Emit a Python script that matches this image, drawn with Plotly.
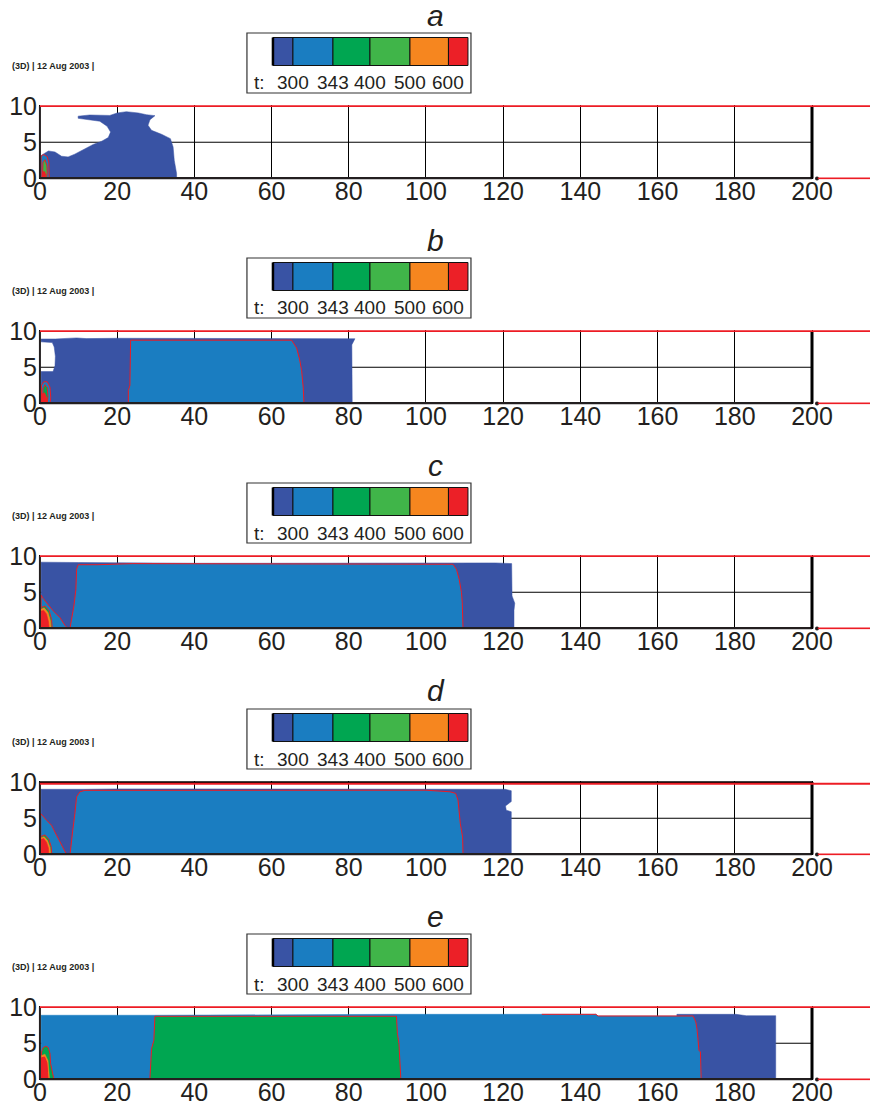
import plotly.graph_objects as go

# ---------------------------------------------------------------- data
panel_letters = ["a", "b", "c", "d", "e"]
x_ticks = [0, 20, 40, 60, 80, 100, 120, 140, 160, 180, 200]
y_ticks = [0, 5, 10]
legend_levels = ["300", "343", "400", "500", "600"]
legend_colors = ["#3953a4", "#1a7dc1", "#00a651", "#40b549", "#f6861f", "#ec2027"]
header_text = "<b>(3D) | 12 Aug 2003 |</b>"

# temperature zones (x in cm, y in cm) for each snapshot
a_t300_x = [0.4, 0.4, 2.2, 3.9, 5.6, 7.3, 9.0, 11.2, 13.8, 16.0, 17.7, 18.3, 17.4, 15.5, 14.2, 12.5, 9.9, 9.9,
            12.9, 18.1, 20.0, 22.4, 25.5, 27.6, 29.8, 28.5, 28.0, 28.9, 31.5, 33.8, 34.5, 34.8, 35.4, 35.4]
a_t300_y = [0, 3.2, 3.8, 3.66, 3.07, 2.98, 3.35, 4.0, 4.7, 5.14, 5.65, 6.4, 7.2, 7.9, 8.0, 8.2, 8.3, 8.6,
            8.76, 8.7, 9.04, 9.22, 9.04, 8.8, 8.67, 8.1, 7.34, 6.65, 6.1, 5.5, 4.35, 2.5, 0.7, 0]
a_t343_x = [0.3, 0.3, 1.0, 1.9, 2.3, 2.4, 2.4]
a_t343_y = [0, 3.1, 3.3, 3.0, 2.2, 1.0, 0]
a_t400_x = [0.6, 0.8, 1.3, 1.8, 1.9, 1.7]
a_t400_y = [0, 2.2, 2.6, 1.8, 0.8, 0]
a_t600_x = [0.6, 0.7, 1.2, 1.5, 1.5]
a_t600_y = [0, 0.9, 1.0, 0.6, 0]

b_t300_x = [0.3, 0.3, 3.4, 3.9, 4.0, 3.7, 3.2, 0.3, 0.3, 4.0, 9.5, 12, 20, 40, 60, 70, 78, 81.6, 80.8, 80.9]
b_t300_y = [0, 4.4, 4.4, 5.2, 6.5, 7.8, 8.4, 8.5, 8.9, 8.9, 9.05, 8.95, 9.0, 9.0, 9.0, 8.95, 8.9, 8.93, 8.1, 0]
b_t343_x = [22.9, 22.9, 23.3, 23.5, 40, 60, 65.2, 66.5, 67.3, 67.8, 68.2, 68.4]
b_t343_y = [0, 1.79, 2.49, 8.73, 8.73, 8.73, 8.73, 7.66, 6.0, 4.5, 2.25, 0]
b_core343_x = [0.4, 0.4, 1.0, 1.9, 2.6, 2.8, 2.6]
b_core343_y = [0, 2.5, 3.0, 3.0, 2.25, 0.84, 0]
b_t400_x = [0.7, 0.8, 1.3, 1.9, 2.1, 1.9]
b_t400_y = [0, 2.0, 2.6, 2.2, 1.0, 0]
b_t600_x = [0.4, 0.4, 1.2, 1.8, 2.0]
b_t600_y = [0, 1.3, 1.5, 0.8, 0]

c_t300_x = [0.3, 0.3, 10, 20, 40, 60, 80, 100, 106, 112, 118, 122.2, 122.3, 123.0, 122.8, 122.8]
c_t300_y = [0, 9.15, 9.1, 9.05, 9.0, 9.0, 9.0, 9.0, 9.05, 9.1, 9.05, 8.95, 4.5, 3.5, 2.5, 0]
c_t343_x = [7.77, 8.2, 8.8, 9.32, 9.5, 9.92, 15, 24, 60, 100, 106, 107.0, 107.9, 108.6, 109.2, 109.4, 109.6]
c_t343_y = [0, 1.28, 3.11, 5.41, 8.17, 8.8, 8.8, 8.95, 8.95, 8.95, 8.9, 8.86, 8.17, 6.8, 4.96, 3.58, 0]
c_low343_x = [0.3, 0.3, 0.86, 3.45, 5.18, 6.47, 7.3]
c_low343_y = [0, 4.6, 4.13, 2.43, 1.51, 0.45, 0]
c_t400_x = [0.3, 0.3, 1.3, 2.4, 3.0, 3.2]
c_t400_y = [0, 2.89, 3.11, 2.43, 1.28, 0]
c_t500_x = [0.3, 0.3, 1.1, 2.1, 2.7, 2.9]
c_t500_y = [0, 2.65, 2.85, 2.2, 1.1, 0]
c_t600_x = [0.3, 0.3, 1.0, 1.7, 2.2, 2.4]
c_t600_y = [0, 2.4, 2.5, 2.0, 1.0, 0]

d_t300_x = [0.3, 0.3, 11.65, 20, 40, 60, 80, 100, 110, 116, 120.5, 122.1, 122.1, 120.6, 120.8, 122.1, 122.1]
d_t300_y = [0, 9.0, 9.0, 9.05, 9.05, 9.05, 9.05, 9.05, 9.1, 9.1, 9.0, 8.8, 7.3, 6.7, 6.1, 5.9, 0]
d_t343_x = [7.8, 8.2, 8.45, 9.06, 9.5, 10.36, 11.65, 40, 80, 100, 106.2, 107.7, 108.3, 108.6, 108.9, 109.5, 109.6]
d_t343_y = [0, 1.48, 3.1, 5.65, 7.96, 8.65, 8.85, 8.85, 8.85, 8.87, 8.65, 8.43, 7.5, 5.65, 4.26, 2.4, 0]
d_low343_x = [0.2, 0.2, 1.73, 3.02, 3.88, 5.18, 6.47, 6.9]
d_low343_y = [0, 5.65, 4.72, 4.03, 3.1, 1.71, 0.32, 0]
d_t400_x = [0.3, 0.3, 1.3, 2.3, 2.9, 3.1]
d_t400_y = [0, 2.5, 2.7, 2.1, 1.1, 0]
d_t500_x = [0.3, 0.3, 1.1, 2.0, 2.6, 2.8]
d_t500_y = [0, 2.3, 2.45, 1.9, 1.0, 0]
d_t600_x = [0.3, 0.3, 1.0, 1.7, 2.2, 2.3]
d_t600_y = [0, 2.1, 2.2, 1.7, 0.9, 0]

e_t300_x = [165, 165, 180.3, 183, 190.6, 190.6]
e_t300_y = [0, 8.99, 8.99, 8.8, 8.8, 0]
e_t343_x = [0.3, 0.3, 30, 92, 144, 144.6, 169.2, 169.9, 170.2, 170.5, 170.7, 171.1, 171.3]
e_t343_y = [0, 8.86, 8.86, 8.99, 8.99, 8.76, 8.76, 7.94, 7.02, 5.41, 4.04, 3.8, 0]
e_front343_x = [130, 144, 144.6, 169.2, 169.9, 170.2, 170.5, 170.7, 171.1, 171.3]
e_front343_y = [8.99, 8.99, 8.76, 8.76, 7.94, 7.02, 5.41, 4.04, 3.8, 0]
e_t400_x = [28.48, 28.66, 28.92, 29.52, 29.78, 92.36, 92.6, 93.0, 93.2, 93.5]
e_t400_y = [0, 1.74, 4.27, 5.41, 8.72, 8.72, 6.33, 4.96, 3.11, 0]
e_core400_x = [0.43, 0.43, 0.86, 1.55, 2.16, 2.6, 2.76, 3.28, 3.63]
e_core400_y = [0, 3.8, 4.4, 4.59, 4.4, 3.58, 2.2, 0.82, 0]
e_t500_x = [0.43, 0.43, 1.3, 2.1, 2.3, 2.5]
e_t500_y = [0, 3.3, 3.5, 2.6, 1.2, 0]
e_t600_x = [0.43, 0.43, 1.2, 1.8, 1.98, 2.1]
e_t600_y = [0, 3.0, 3.1, 2.3, 1.0, 0]

corner_mark_x = [201.3]
corner_mark_y = [0.0]

# ---------------------------------------------------------------- layout geometry
W, H = 870, 1109
X0_PX, X200_PX = 40, 812
SX = (X200_PX - X0_PX) / 200.0
X_LO = -0.5
X_HI = (W - X0_PX) / SX
Y_LO, Y_HI = -0.1, 10.1
PANEL_TOPS = [106, 331, 556, 782, 1007]
PANEL_H = 72.5
SY = PANEL_H / 10.0
M_LEFT = X0_PX + X_LO * SX

INK = "#231f20"
RED = "#ed1c24"
FONT = "Liberation Sans, Arial, sans-serif"

C300, C343, C400, C400B, C500, C600 = legend_colors


def px_x(px):
    return (px - M_LEFT) / (W - M_LEFT)


def px_y(py):
    return 1 - py / H


zones = {
    "a": [(a_t300_x, a_t300_y, C300, None), (a_t343_x, a_t343_y, C343, RED),
          (a_t400_x, a_t400_y, C400B, RED), (a_t600_x, a_t600_y, C600, None)],
    "b": [(b_t300_x, b_t300_y, C300, None), (b_t343_x, b_t343_y, C343, RED),
          (b_core343_x, b_core343_y, C343, RED), (b_t400_x, b_t400_y, C400, RED),
          (b_t600_x, b_t600_y, C600, None)],
    "c": [(c_t300_x, c_t300_y, C300, None), (c_t343_x, c_t343_y, C343, RED),
          (c_low343_x, c_low343_y, C343, RED), (c_t400_x, c_t400_y, C400, RED),
          (c_t500_x, c_t500_y, C500, None), (c_t600_x, c_t600_y, C600, None)],
    "d": [(d_t300_x, d_t300_y, C300, None), (d_t343_x, d_t343_y, C343, RED),
          (d_low343_x, d_low343_y, C343, RED), (d_t400_x, d_t400_y, C400, RED),
          (d_t500_x, d_t500_y, C500, None), (d_t600_x, d_t600_y, C600, None)],
    "e": [(e_t300_x, e_t300_y, C300, None), (e_t343_x, e_t343_y, C343, None),
          (e_t400_x, e_t400_y, C400, RED), (e_core400_x, e_core400_y, C400, RED),
          (e_t500_x, e_t500_y, C500, None), (e_t600_x, e_t600_y, C600, RED)],
}
extra_lines = {"e": [(e_front343_x, e_front343_y)]}

fig = go.Figure()
shapes = []
annotations = []
layout = {}

for i, letter in enumerate(panel_letters):
    n = i + 1
    xa = "x" if n == 1 else f"x{n}"
    ya = "y" if n == 1 else f"y{n}"
    top = PANEL_TOPS[i]
    dom_top = top - (Y_HI - 10) * SY
    dom_bot = top + PANEL_H - Y_LO * SY

    layout["xaxis" if n == 1 else f"xaxis{n}"] = dict(
        domain=[0, 1], range=[X_LO, X_HI], anchor=ya,
        tickmode="array", tickvals=x_ticks, ticktext=[str(v) for v in x_ticks],
        showgrid=True, gridcolor="#000000", gridwidth=1, zeroline=False, showline=False,
        ticks="", ticklabelstandoff=-5,
        tickfont=dict(family=FONT, size=25, color=INK), fixedrange=True,
    )
    layout["yaxis" if n == 1 else f"yaxis{n}"] = dict(
        domain=[px_y(dom_bot), px_y(dom_top)], range=[Y_LO, Y_HI], anchor=xa,
        tickmode="array", tickvals=y_ticks, ticktext=[str(v) for v in y_ticks],
        showgrid=False, zeroline=False, showline=False,
        ticks="", tickfont=dict(family=FONT, size=25, color=INK), fixedrange=True,
    )

    for zx, zy, fill, edge in zones[letter]:
        fig.add_trace(go.Scatter(
            x=zx, y=zy, xaxis=xa, yaxis=ya, mode="lines", fill="toself",
            fillcolor=fill, line=dict(color=edge or fill, width=1 if edge else 0.5),
            hoverinfo="skip", showlegend=False,
        ))
    for lx, ly in extra_lines.get(letter, []):
        fig.add_trace(go.Scatter(
            x=lx, y=ly, xaxis=xa, yaxis=ya, mode="lines",
            line=dict(color=RED, width=1), hoverinfo="skip", showlegend=False,
        ))
    fig.add_trace(go.Scatter(
        x=corner_mark_x, y=corner_mark_y, xaxis=xa, yaxis=ya, mode="markers",
        marker=dict(color=INK, size=4), cliponaxis=False, hoverinfo="skip", showlegend=False,
    ))

    # horizontal grid line at mid-height and the axes frame
    shapes += [
        dict(type="line", xref=xa, yref=ya, x0=0, x1=200, y0=5, y1=5,
             line=dict(color="#000000", width=1), layer="below"),
        dict(type="line", xref=xa, yref=ya, x0=0, x1=0, y0=0, y1=10,
             line=dict(color=INK, width=2)),
        dict(type="line", xref=xa, yref=ya, x0=0, x1=200, y0=0, y1=0,
             line=dict(color=INK, width=3)),
        dict(type="line", xref=xa, yref=ya, x0=200, x1=200, y0=0, y1=10,
             line=dict(color="#000000", width=3)),
        dict(type="line", xref=xa, yref=ya, x0=201.5, x1=X_HI, y0=0, y1=0,
             line=dict(color=RED, width=2)),
    ]
    if letter == "d":
        shapes += [
            dict(type="line", xref=xa, yref=ya, x0=0, x1=200, y0=10.05, y1=10.05,
                 line=dict(color="#000000", width=3)),
            dict(type="line", xref=xa, yref=ya, x0=0, x1=X_HI, y0=9.75, y1=9.75,
                 line=dict(color=RED, width=2)),
        ]
    else:
        shapes.append(dict(type="line", xref=xa, yref=ya, x0=0, x1=X_HI, y0=10, y1=10,
                           line=dict(color=RED, width=2)))

    # panel letter
    annotations.append(dict(
        text=f"<i>{letter}</i>", xref="paper", yref="paper",
        x=px_x(436), y=px_y(top - 91), xanchor="center", yanchor="middle",
        showarrow=False, font=dict(family=FONT, size=30, color=INK),
    ))
    # run header
    annotations.append(dict(
        text=header_text, xref="paper", yref="paper",
        x=px_x(10), y=px_y(top - 40), xanchor="left", yanchor="middle",
        showarrow=False, font=dict(family=FONT, size=9, color=INK),
    ))

    # temperature key
    shapes.append(dict(type="rect", xref="paper", yref="paper",
                       x0=px_x(247), x1=px_x(471), y0=px_y(top - 73), y1=px_y(top - 13),
                       line=dict(color="#333333", width=1.2), fillcolor="white"))
    edges = [273, 293, 333, 370, 410, 448.5, 468]
    for k, col in enumerate(legend_colors):
        shapes.append(dict(type="rect", xref="paper", yref="paper",
                           x0=px_x(edges[k]), x1=px_x(edges[k + 1]),
                           y0=px_y(top - 40.5), y1=px_y(top - 68.5),
                           line=dict(color="#111111", width=1), fillcolor=col))
    shapes.append(dict(type="line", xref="paper", yref="paper",
                       x0=px_x(273), x1=px_x(273), y0=px_y(top - 40.5), y1=px_y(top - 68.5),
                       line=dict(color="#000000", width=2.5)))
    annotations.append(dict(
        text="t:", xref="paper", yref="paper", x=px_x(252), y=px_y(top - 23),
        xanchor="left", yanchor="middle", showarrow=False,
        font=dict(family=FONT, size=19, color=INK),
    ))
    for k, lab in enumerate(legend_levels):
        annotations.append(dict(
            text=lab, xref="paper", yref="paper", x=px_x(edges[k + 1]), y=px_y(top - 23),
            xanchor="center", yanchor="middle", showarrow=False,
            font=dict(family=FONT, size=19, color=INK),
        ))

fig.update_layout(
    width=W, height=H,
    margin=dict(l=M_LEFT, r=0, t=0, b=0, autoexpand=False),
    paper_bgcolor="white", plot_bgcolor="white",
    shapes=shapes, annotations=annotations, showlegend=False,
    **layout,
)

fig.write_html("out.html", config={"displayModeBar": False})
